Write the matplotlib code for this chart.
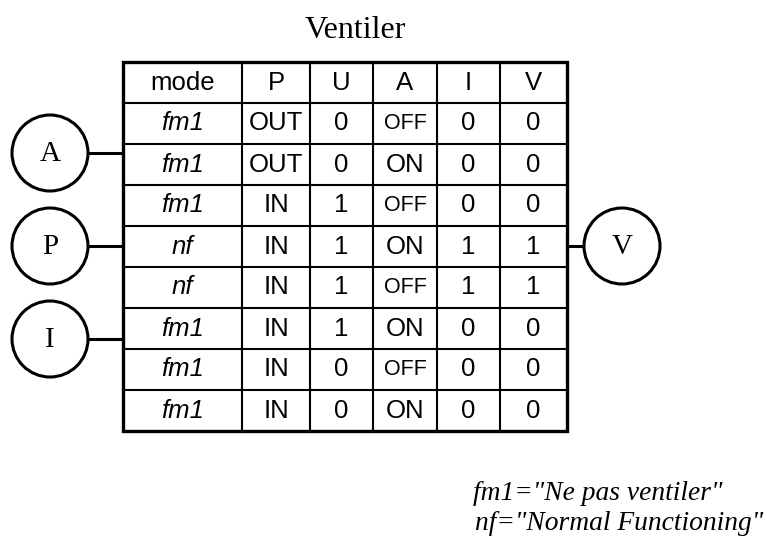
import matplotlib
matplotlib.use("Agg")
import matplotlib.pyplot as plt
from matplotlib.patches import Circle, Rectangle

# ---- data ----
title = "Ventiler"
columns = ["mode", "P", "U", "A", "I", "V"]
mode = ["fm1", "fm1", "fm1", "nf", "nf", "fm1", "fm1", "fm1"]
P = ["OUT", "OUT", "IN", "IN", "IN", "IN", "IN", "IN"]
U = [0, 0, 1, 1, 1, 1, 0, 0]
A = ["OFF", "ON", "OFF", "ON", "OFF", "ON", "OFF", "ON"]
I = [0, 0, 0, 1, 1, 0, 0, 0]
V = [0, 0, 0, 1, 1, 0, 0, 0]
inputs = ["A", "P", "I"]
output = "V"
notes = ['fm1="Ne pas ventiler"', 'nf="Normal Functioning"']

# ---- layout ----
W, H = 767, 547
fig = plt.figure(figsize=(W / 100, H / 100), dpi=100)
ax = fig.add_axes([0, 0, 1, 1])
ax.set_xlim(0, W)
ax.set_ylim(H, 0)
ax.axis("off")

x0, y_top, y_bot = 123, 62, 431
col_w = [119, 68, 63, 64, 63, 67]
n_rows = len(mode) + 1
row_h = (y_bot - y_top) / n_rows
col_x = [x0]
for w in col_w:
    col_x.append(col_x[-1] + w)
x1 = col_x[-1]

inner_lw = 1.5
outer_lw = 2.4
for cx in col_x[1:-1]:
    ax.plot([cx, cx], [y_top, y_bot], color="black", lw=inner_lw, solid_capstyle="butt")
for r in range(1, n_rows):
    yy = y_top + r * row_h
    ax.plot([x0, x1], [yy, yy], color="black", lw=inner_lw, solid_capstyle="butt")
ax.add_patch(Rectangle((x0, y_top), x1 - x0, y_bot - y_top, fill=False,
                       edgecolor="black", lw=outer_lw, joinstyle="miter"))

sans = "Liberation Sans"
serif = "Liberation Serif"


def cell(ci, ri, s, size=18.5, style="normal"):
    cx = (col_x[ci] + col_x[ci + 1]) / 2
    cy = y_top + (ri + 0.5) * row_h
    ax.text(cx, cy, s, ha="center", va="center", fontsize=size,
            family=sans, style=style)


for ci, c in enumerate(columns):
    cell(ci, 0, c)
rows = list(zip(mode, P, U, A, I, V))
for ri, row in enumerate(rows, start=1):
    cell(0, ri, row[0], style="italic")
    cell(1, ri, row[1])
    cell(2, ri, str(row[2]))
    cell(3, ri, row[3], size=15.5 if row[3] == "OFF" else 18.5)
    cell(4, ri, str(row[4]))
    cell(5, ri, str(row[5]))

# title
ax.text(355, 31, title, ha="center", va="center", fontsize=23, family=serif)

# input circles
r_c = 38
in_cx = 50
in_cy = [153, 246, 339]
for lab, cy in zip(inputs, in_cy):
    ax.add_patch(Circle((in_cx, cy), r_c, fill=False, edgecolor="black", lw=2.2))
    ax.plot([in_cx + r_c, x0], [cy, cy], color="black", lw=2.2, solid_capstyle="butt")
    ax.text(in_cx, cy + 1, lab, ha="center", va="center", fontsize=21, family=serif)

# output circle
out_cx, out_cy = 622, 246
ax.add_patch(Circle((out_cx, out_cy), r_c, fill=False, edgecolor="black", lw=2.2))
ax.plot([x1, out_cx - r_c], [out_cy, out_cy], color="black", lw=2.2, solid_capstyle="butt")
ax.text(out_cx, out_cy + 1, output, ha="center", va="center", fontsize=21, family=serif)

# notes
ax.text(473, 500, notes[0], ha="left", va="baseline", fontsize=19.8,
        family=serif, style="italic")
ax.text(475, 530, notes[1], ha="left", va="baseline", fontsize=19.8,
        family=serif, style="italic")

fig.savefig("out.png", dpi=100)
